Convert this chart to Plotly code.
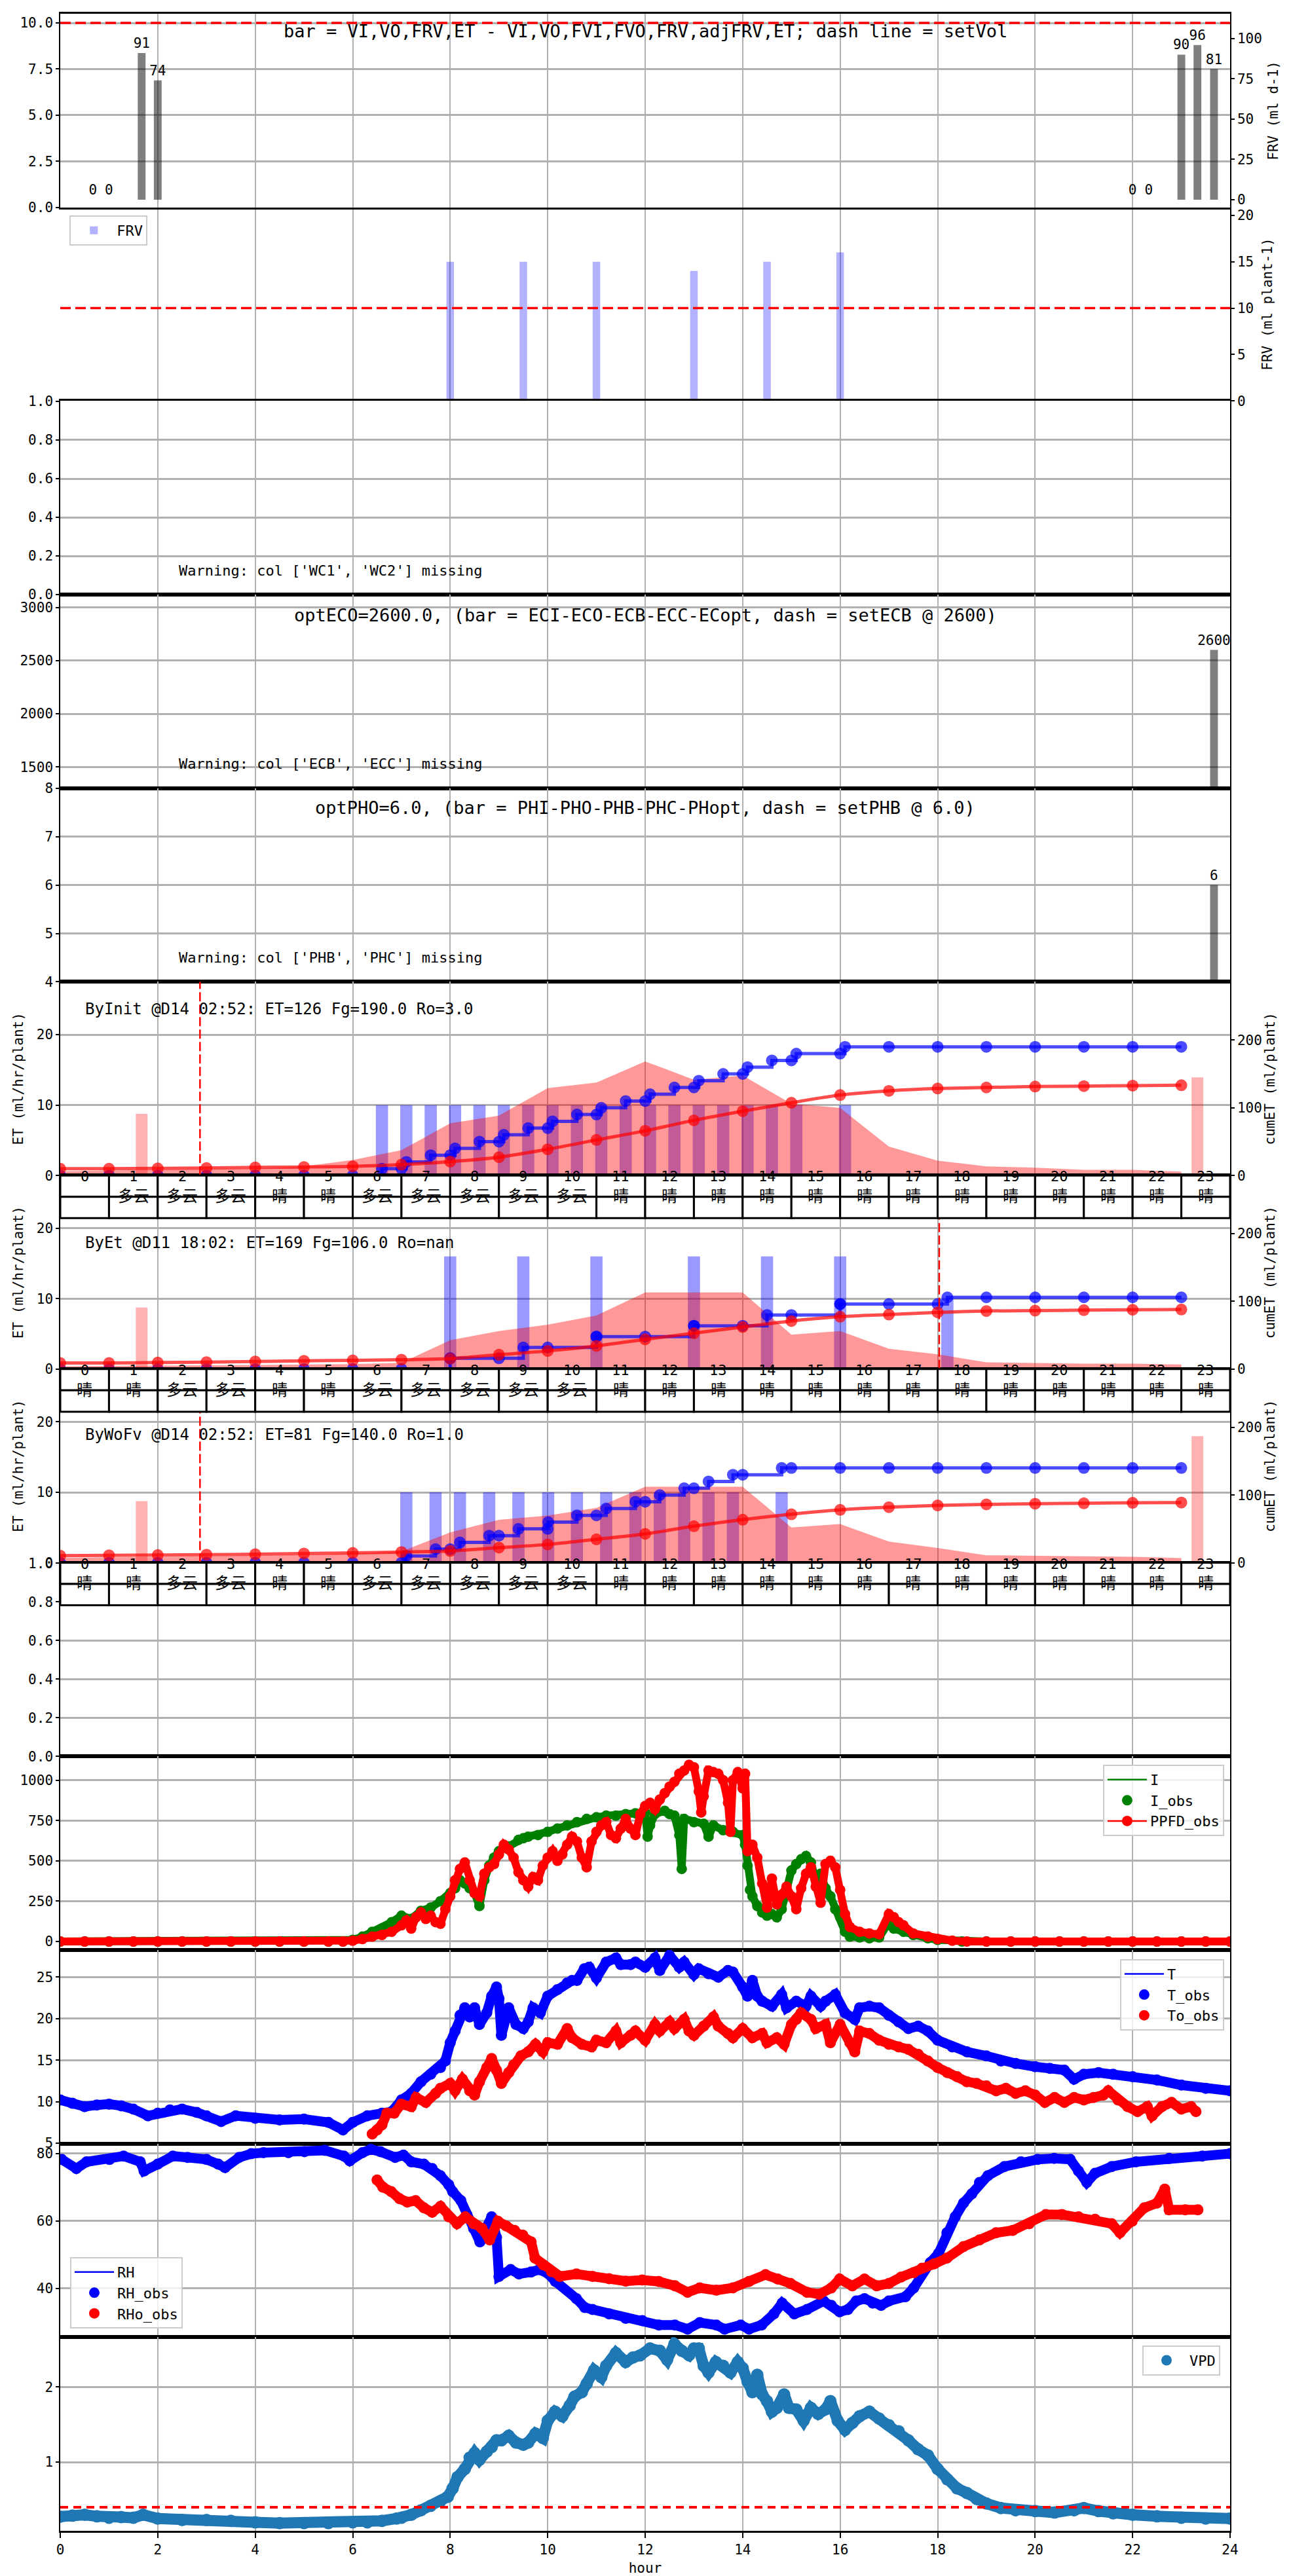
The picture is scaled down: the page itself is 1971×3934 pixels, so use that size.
import plotly.graph_objects as go

FONT = "DejaVu Sans Mono, Noto Sans CJK SC, sans-serif"
CJK_FONT = "Noto Sans CJK SC, DejaVu Sans Mono, sans-serif"
GRID = "#b0b0b0"
N_PANELS = 13

# ======================= DATA =======================
x_ticks = [0, 2, 4, 6, 8, 10, 12, 14, 16, 18, 20, 22, 24]

# panel 1: daily volumes
vol_hours = [0.67, 1.0, 1.67, 2.0, 22.0, 22.33, 23.0, 23.33, 23.67]
vol_values = [0, 0, 91, 74, 0, 0, 90, 96, 81]
set_vol = 10.0
title_vol = "bar = VI,VO,FRV,ET - VI,VO,FVI,FVO,FRV,adjFRV,ET; dash line = setVol"

# panel 2: FRV per event
frv_hours = [8.0, 9.5, 11.0, 13.0, 14.5, 16.0]
frv_values = [15, 15, 15, 14, 15, 16]
set_frv = 10.0

# panels 3-5
warn_wc = "Warning: col ['WC1', 'WC2'] missing"
ec_hours = [23.67]
ec_values = [2600]
title_ec = "optECO=2600.0, (bar = ECI-ECO-ECB-ECC-ECopt, dash = setECB @ 2600)"
warn_ec = "Warning: col ['ECB', 'ECC'] missing"
ph_hours = [23.67]
ph_values = [6]
title_ph = "optPHO=6.0, (bar = PHI-PHO-PHB-PHC-PHopt, dash = setPHB @ 6.0)"
warn_ph = "Warning: col ['PHB', 'PHC'] missing"

# ET panels (shared)
et_hours = [0, 1, 2, 3, 4, 5, 6, 7, 8, 9, 10, 11, 12, 13, 14, 15, 16, 17, 18, 19, 20, 21, 22, 23]
hour_labels = ["0", "1", "2", "3", "4", "5", "6", "7", "8", "9", "10", "11",
               "12", "13", "14", "15", "16", "17", "18", "19", "20", "21", "22", "23"]

# ByInit
init_label = "ByInit @D14 02:52: ET=126 Fg=190.0 Ro=3.0"
init_area = [0.6, 0.7, 0.75, 0.85, 1.0, 1.3, 2.2, 3.6, 7.4, 8.5, 12.4, 13.2,
             16.2, 13.6, 14.2, 10.2, 9.6, 4.1, 2.1, 1.3, 1.1, 0.8, 0.8, 0.55]
init_model = [10, 10, 10.5, 11, 12, 12.5, 13.5, 16, 20.5, 27, 38.7, 52.5,
              66, 81.5, 95, 107.5, 118.8, 125, 128.5, 130, 131.4, 132, 132.7, 133.3]
init_ev_t = [6.6, 7.1, 7.6, 8.1, 8.6, 9.1, 9.6, 10.1, 10.6, 11.1, 11.6, 12.1,
             12.6, 13.1, 13.6, 14.1, 14.6, 15.1, 16.1]
init_ev_v = [10, 10, 10, 10, 10, 10, 10, 10, 10, 10, 10, 10, 10, 10, 10, 10, 10, 10, 10]
init_ev_cum = [10, 20, 30, 40, 50, 60, 70, 80, 90, 100, 110, 120, 130, 140, 150, 160, 170, 180, 190]
init_hr_cum = [0, 0, 0, 0, 0, 0, 0, 10, 30, 50, 70, 90, 110, 130, 150, 170, 180, 190,
               190, 190, 190, 190, 190, 190]
init_fill_t = [1.67, 23.33]
init_fill_v = [91, 145]
init_mark = 2.867
init_wx = ["", "多云", "多云", "多云", "晴", "晴", "多云", "多云", "多云", "多云", "多云", "晴",
           "晴", "晴", "晴", "晴", "晴", "晴", "晴", "晴", "晴", "晴", "晴", "晴"]

# ByEt
byet_label = "ByEt @D11 18:02: ET=169 Fg=106.0 Ro=nan"
byet_area = [0.4, 0.45, 0.5, 0.55, 0.6, 0.65, 0.7, 0.9, 4.1, 5.4, 6.3, 7.6,
             10.9, 10.9, 10.9, 4.9, 5.4, 2.9, 2.1, 0.96, 0.87, 0.78, 0.78, 0.65]
byet_model = [9, 9, 9.7, 10.3, 11.3, 12.3, 12.9, 13.9, 15.5, 21.3, 26.8, 34.2,
              43.9, 53, 62.2, 71, 77.4, 80.6, 83.8, 85.8, 86.4, 87.1, 87.7, 88.1]
byet_ev_t = [8.0, 9.5, 11.0, 13.0, 14.5, 16.0, 18.2]
byet_ev_v = [16, 16, 16, 16, 16, 16, 10]
byet_ev_cum = [16, 32, 48, 64, 80, 96, 106]
byet_hr_cum = [0, 0, 0, 0, 0, 0, 0, 0, 16, 16, 32, 48, 48, 64, 64, 80, 96, 96,
               96, 106, 106, 106, 106, 106]
byet_fill_t = [1.67]
byet_fill_v = [91]
byet_mark = 18.033
byet_wx = ["晴", "晴", "多云", "多云", "晴", "晴", "多云", "多云", "多云", "多云", "多云", "晴",
           "晴", "晴", "晴", "晴", "晴", "晴", "晴", "晴", "晴", "晴", "晴", "晴"]

# ByWoFv
wofv_label = "ByWoFv @D14 02:52: ET=81 Fg=140.0 Ro=1.0"
wofv_area = [0.7, 0.75, 0.8, 0.9, 1.0, 1.1, 1.3, 1.6, 4.3, 6.1, 6.7, 7.8,
             10.8, 10.8, 10.8, 5.0, 5.5, 3.0, 2.1, 1.06, 0.95, 0.9, 0.85, 0.65]
wofv_model = [10.4, 11.0, 11.3, 11.9, 12.6, 13.6, 14.5, 15.8, 17.4, 22.3, 27, 34.6,
              42.6, 53.9, 63.6, 71.6, 78.1, 82, 84.6, 86.2, 87.1, 87.8, 88.5, 88.8]
wofv_ev_t = [7.1, 7.7, 8.2, 8.8, 9.4, 10.01, 10.6, 11.2, 11.8, 12.3, 12.8, 13.3, 13.8, 14.8]
wofv_ev_v = [10, 10, 10, 10, 10, 10, 10, 10, 10, 10, 10, 10, 10, 10]
wofv_ev_cum = [10, 20, 30, 40, 50, 60, 70, 80, 90, 100, 110, 120, 130, 140]
wofv_hr_cum = [0, 0, 0, 0, 0, 0, 0, 0, 20, 40, 50, 70, 90, 110, 130, 140, 140, 140,
               140, 140, 140, 140, 140, 140]
wofv_fill_t = [1.67, 23.33]
wofv_fill_v = [91, 187]
wofv_mark = 2.867
wofv_wx = ["晴", "晴", "多云", "多云", "晴", "晴", "多云", "多云", "多云", "多云", "多云", "晴",
           "晴", "晴", "晴", "晴", "晴", "晴", "晴", "晴", "晴", "晴", "晴", "晴"]

# light (hour, value)
ppfd_obs = [(0.0, 0), (0.5, 0), (1.0, 0), (1.5, 0), (2.0, 0), (2.5, 0), (3.0, 0), (3.5, 0),
            (4.0, 0), (4.5, 0), (5.0, 0), (5.5, 0), (5.8, 0), (6.0, 5), (6.2, 15), (6.4, 30),
            (6.6, 40), (6.8, 60), (7.0, 100), (7.1, 130), (7.2, 80), (7.3, 150), (7.4, 180),
            (7.5, 140), (7.6, 160), (7.7, 120), (7.8, 110), (7.9, 200), (8.0, 280), (8.1, 380),
            (8.2, 450), (8.3, 490), (8.4, 380), (8.5, 300), (8.6, 280), (8.7, 420), (8.8, 460),
            (8.9, 480), (9.0, 540), (9.1, 600), (9.2, 570), (9.3, 520), (9.4, 430), (9.5, 380),
            (9.6, 340), (9.7, 400), (9.8, 380), (9.9, 470), (10.0, 520), (10.1, 560), (10.2, 500),
            (10.3, 540), (10.4, 600), (10.5, 650), (10.6, 620), (10.7, 520), (10.8, 460),
            (10.9, 620), (11.0, 680), (11.1, 720), (11.2, 740), (11.3, 660), (11.4, 640),
            (11.5, 700), (11.6, 760), (11.7, 700), (11.8, 660), (11.9, 790), (12.0, 840),
            (12.1, 860), (12.2, 820), (12.3, 880), (12.4, 920), (12.5, 960), (12.6, 990),
            (12.7, 1040), (12.8, 1060), (12.9, 1095), (13.0, 1080), (13.1, 930), (13.15, 800),
            (13.2, 900), (13.3, 1060), (13.4, 1050), (13.5, 1040), (13.6, 1000), (13.7, 860),
            (13.75, 680), (13.8, 1000), (13.9, 1050), (14.0, 950), (14.05, 1040), (14.1, 560),
            (14.2, 600), (14.3, 520), (14.4, 360), (14.5, 210), (14.6, 390), (14.7, 230),
            (14.8, 290), (14.9, 340), (15.0, 280), (15.1, 200), (15.2, 330), (15.3, 420),
            (15.4, 460), (15.5, 340), (15.6, 240), (15.7, 480), (15.8, 500), (15.9, 460),
            (16.0, 320), (16.1, 170), (16.2, 90), (16.4, 60), (16.6, 50), (16.8, 45),
            (17.0, 170), (17.1, 150), (17.2, 120), (17.3, 100), (17.5, 50), (17.8, 30),
            (18.0, 15), (18.3, 5), (18.6, 0), (19.0, 0), (19.5, 0), (20.0, 0), (20.5, 0),
            (21.0, 0), (21.5, 0), (22.0, 0), (22.5, 0), (23.0, 0), (23.5, 0), (24.0, 0)]
i_obs = [(0.0, 0), (0.5, 0), (1.0, 0), (1.5, 0), (2.0, 0), (2.5, 0), (3.0, 0), (3.5, 0),
         (4.0, 0), (4.5, 0), (5.0, 0), (5.5, 0), (5.8, 0), (6.0, 10), (6.2, 30), (6.4, 60),
         (6.6, 80), (6.8, 120), (7.0, 160), (7.2, 140), (7.4, 190), (7.6, 210), (7.8, 250),
         (8.0, 300), (8.1, 330), (8.2, 380), (8.3, 360), (8.4, 330), (8.5, 300), (8.6, 220),
         (8.7, 380), (8.8, 470), (8.9, 520), (9.0, 560), (9.2, 590), (9.4, 630), (9.5, 640),
         (9.6, 650), (9.8, 660), (10.0, 680), (10.2, 700), (10.4, 720), (10.6, 740),
         (10.8, 760), (11.0, 770), (11.2, 780), (11.4, 780), (11.6, 790), (11.8, 795),
         (12.0, 800), (12.05, 650), (12.1, 720), (12.2, 790), (12.4, 810), (12.5, 790),
         (12.6, 780), (12.7, 660), (12.75, 450), (12.8, 760), (13.0, 740), (13.2, 730),
         (13.3, 650), (13.4, 720), (13.6, 690), (13.8, 680), (14.0, 660), (14.05, 600),
         (14.1, 470), (14.15, 320), (14.2, 280), (14.3, 220), (14.4, 180), (14.5, 160),
         (14.6, 170), (14.7, 150), (14.8, 200), (14.9, 320), (15.0, 440), (15.1, 480),
         (15.2, 510), (15.3, 530), (15.4, 490), (15.5, 380), (15.6, 420), (15.7, 330),
         (15.8, 280), (15.9, 200), (16.0, 150), (16.1, 60), (16.2, 30), (16.4, 25),
         (16.6, 20), (16.8, 25), (17.0, 120), (17.1, 80), (17.3, 60), (17.5, 40), (17.8, 20),
         (18.0, 10), (18.5, 0), (19.0, 0), (19.5, 0), (20.0, 0), (20.5, 0), (21.0, 0),
         (21.5, 0), (22.0, 0), (22.5, 0), (23.0, 0), (23.5, 0), (24.0, 0)]

# temperature (hour, degC)
t_obs = [(0.0, 10.2), (0.25, 9.8), (0.5, 9.4), (0.75, 9.6), (1.0, 9.7), (1.25, 9.5),
         (1.5, 9.1), (1.8, 8.3), (2.0, 8.6), (2.25, 9.0), (2.5, 9.1), (2.8, 8.7), (3.0, 8.3),
         (3.3, 7.6), (3.6, 8.3), (4.0, 8.0), (4.5, 7.8), (5.0, 7.9), (5.5, 7.5), (5.8, 6.6),
         (6.0, 7.5), (6.3, 8.3), (6.6, 8.6), (6.8, 8.8), (7.0, 10.2), (7.2, 11.0), (7.4, 12.4),
         (7.6, 13.3), (7.8, 14.1), (7.9, 14.9), (8.0, 17.1), (8.1, 18.5), (8.2, 20.4),
         (8.3, 21.3), (8.4, 20.2), (8.5, 21.3), (8.6, 19.3), (8.75, 20.7), (8.85, 22.7),
         (8.95, 23.8), (9.0, 22.4), (9.05, 18.0), (9.2, 21.3), (9.35, 19.3), (9.5, 18.8),
         (9.6, 19.6), (9.7, 21.3), (9.85, 20.7), (10.0, 22.7), (10.2, 23.5), (10.4, 24.3),
         (10.5, 24.6), (10.6, 24.6), (10.75, 26.0), (10.85, 26.2), (11.0, 24.9), (11.2, 26.8),
         (11.4, 27.3), (11.5, 26.5), (11.7, 26.5), (11.8, 26.8), (12.0, 26.2), (12.2, 27.3),
         (12.3, 25.8), (12.5, 27.6), (12.7, 26.2), (12.8, 26.8), (13.0, 25.3), (13.1, 26.0),
         (13.3, 25.4), (13.5, 25.0), (13.7, 25.8), (13.8, 25.6), (14.0, 23.8), (14.1, 22.7),
         (14.2, 24.6), (14.3, 22.7), (14.4, 22.1), (14.6, 21.5), (14.8, 22.9), (14.9, 21.3),
         (15.1, 22.1), (15.3, 21.5), (15.4, 22.7), (15.6, 21.5), (15.7, 22.1), (15.9, 22.9),
         (16.1, 20.7), (16.3, 19.9), (16.4, 21.3), (16.6, 21.5), (16.8, 21.3), (17.0, 20.4),
         (17.2, 19.6), (17.4, 18.8), (17.6, 19.1), (17.8, 18.5), (18.0, 17.4), (18.3, 16.6),
         (18.6, 16.0), (19.0, 15.5), (19.3, 14.9), (19.6, 14.6), (20.0, 14.2), (20.3, 14.0),
         (20.6, 13.8), (20.8, 12.7), (21.0, 13.3), (21.3, 13.5), (21.6, 13.3), (22.0, 13.0),
         (22.5, 12.6), (23.0, 12.0), (23.5, 11.6), (24.0, 11.3)]
to_obs = [(6.4, 6.1), (6.5, 6.6), (6.6, 7.2), (6.7, 8.6), (6.85, 8.6), (7.0, 9.7), (7.2, 9.4),
          (7.3, 10.5), (7.5, 9.9), (7.7, 11.0), (7.8, 11.6), (8.0, 12.2), (8.1, 11.3),
          (8.25, 12.7), (8.4, 11.3), (8.5, 10.8), (8.6, 12.4), (8.75, 14.1), (8.85, 15.2),
          (8.95, 13.8), (9.05, 12.2), (9.2, 13.5), (9.3, 14.4), (9.45, 15.5), (9.6, 16.0),
          (9.75, 16.9), (9.9, 16.0), (10.0, 17.1), (10.2, 16.9), (10.4, 18.8), (10.5, 17.7),
          (10.7, 16.9), (10.9, 16.6), (11.0, 17.4), (11.2, 17.1), (11.4, 18.5), (11.5, 17.1),
          (11.7, 18.0), (11.8, 18.5), (12.0, 17.4), (12.2, 19.3), (12.3, 18.5), (12.5, 19.6),
          (12.6, 18.8), (12.8, 19.9), (12.9, 18.5), (13.0, 18.0), (13.2, 19.1), (13.4, 20.2),
          (13.5, 19.1), (13.7, 18.2), (13.8, 17.7), (14.0, 18.8), (14.2, 17.7), (14.4, 18.2),
          (14.5, 17.1), (14.7, 17.7), (14.85, 16.9), (15.0, 19.3), (15.1, 19.9), (15.2, 20.7),
          (15.4, 19.9), (15.5, 18.8), (15.7, 19.3), (15.8, 17.1), (16.0, 19.3), (16.2, 17.1),
          (16.3, 16.0), (16.4, 18.5), (16.6, 18.2), (16.8, 17.4), (17.0, 16.9), (17.2, 16.6),
          (17.4, 16.3), (17.6, 15.7), (17.8, 14.9), (18.0, 14.1), (18.2, 13.5), (18.4, 13.0),
          (18.6, 12.4), (18.8, 12.2), (19.0, 11.9), (19.2, 11.3), (19.4, 11.6), (19.6, 11.0),
          (19.8, 11.3), (20.0, 10.8), (20.2, 9.9), (20.4, 10.5), (20.6, 9.9), (20.8, 10.5),
          (21.0, 10.2), (21.2, 10.5), (21.4, 10.8), (21.5, 11.3), (21.7, 10.2), (21.9, 9.4),
          (22.1, 8.8), (22.3, 9.4), (22.4, 8.3), (22.6, 9.4), (22.8, 9.9), (23.0, 9.1),
          (23.2, 9.4), (23.3, 8.8)]

# relative humidity (hour, %)
rh_obs = [(0.03, 78.2), (0.33, 75.5), (0.54, 77.5), (1.01, 78.2), (1.3, 79.2), (1.64, 77.5),
          (1.72, 74.8), (2.0, 76.8), (2.31, 79.2), (2.61, 78.8), (3.0, 78.2), (3.24, 76.8),
          (3.38, 75.8), (3.67, 78.8), (3.92, 79.9), (4.17, 80.2), (4.68, 80.2), (5.01, 80.5),
          (5.43, 80.9), (5.82, 79.2), (5.94, 77.8), (6.2, 80.2), (6.37, 81.2), (6.57, 80.5),
          (6.87, 78.8), (7.04, 79.5), (7.2, 77.5), (7.46, 76.8), (7.63, 75.5), (7.8, 73.4),
          (7.97, 70.7), (8.05, 68.7), (8.22, 66.0), (8.34, 61.9), (8.48, 57.8), (8.61, 53.8),
          (8.73, 57.8), (8.85, 61.2), (8.95, 55.1), (9.0, 43.6), (9.24, 45.6), (9.41, 44.3),
          (9.66, 44.9), (9.83, 45.6), (10.0, 44.5), (10.16, 42.1), (10.59, 37.0), (10.76, 34.4),
          (10.92, 33.8), (11.26, 32.5), (11.6, 31.2), (11.94, 30.5), (12.28, 29.2),
          (12.61, 29.2), (12.87, 28.0), (13.12, 29.9), (13.46, 29.2), (13.63, 28.0),
          (13.96, 29.2), (14.13, 28.0), (14.39, 29.2), (14.64, 32.5), (14.81, 35.7),
          (15.06, 32.5), (15.32, 33.8), (15.66, 36.3), (15.82, 35.0), (15.99, 33.1),
          (16.16, 33.8), (16.33, 36.3), (16.5, 37.0), (16.67, 35.7), (16.84, 35.0), (17.0, 36.3),
          (17.34, 37.6), (17.51, 40.2), (17.68, 44.7), (17.85, 47.7), (18.02, 50.4),
          (18.19, 56.5), (18.36, 61.2), (18.53, 65.3), (18.7, 68.0), (18.86, 71.4),
          (19.03, 73.4), (19.37, 76.1), (19.71, 77.5), (20.05, 78.2), (20.39, 78.5),
          (20.72, 78.2), (20.89, 74.8), (21.06, 71.4), (21.23, 74.1), (21.57, 76.1),
          (22.07, 77.5), (22.75, 78.5), (23.43, 79.2), (24.0, 79.9)]
rho_obs = [(6.5, 72.1), (6.62, 70.0), (6.79, 68.7), (6.96, 66.6), (7.12, 65.6), (7.29, 66.0),
           (7.46, 63.9), (7.63, 62.6), (7.8, 64.3), (7.97, 61.2), (8.14, 59.2), (8.31, 61.2),
           (8.48, 59.2), (8.65, 57.8), (8.81, 54.4), (8.98, 59.9), (9.15, 58.5), (9.32, 57.2),
           (9.49, 55.8), (9.66, 53.8), (9.74, 49.0), (9.91, 47.0), (10.08, 45.0), (10.25, 43.6),
           (10.59, 44.3), (10.92, 43.6), (11.26, 42.9), (11.6, 42.2), (11.94, 42.5),
           (12.28, 42.1), (12.61, 40.8), (12.87, 38.9), (13.12, 40.2), (13.46, 39.5),
           (13.8, 40.2), (14.13, 42.1), (14.47, 44.1), (14.72, 42.8), (14.98, 41.5),
           (15.32, 38.9), (15.57, 38.3), (15.82, 40.2), (15.99, 42.8), (16.25, 40.8),
           (16.5, 42.8), (16.75, 40.8), (17.0, 41.5), (17.25, 43.4), (17.51, 44.7),
           (17.68, 46.0), (17.93, 47.3), (18.19, 49.0), (18.53, 52.4), (18.86, 54.4),
           (19.2, 56.5), (19.54, 57.2), (19.88, 59.2), (20.22, 61.9), (20.55, 61.9),
           (20.89, 61.2), (21.23, 60.5), (21.57, 59.2), (21.74, 56.5), (21.99, 59.9),
           (22.24, 63.9), (22.5, 65.3), (22.66, 69.4), (22.75, 63.3), (23.08, 63.3), (23.34, 63.3)]

# VPD (hour, kPa)
vpd_obs = [(0.0, 0.275), (0.25, 0.29), (0.5, 0.30), (0.75, 0.28), (1.0, 0.26), (1.25, 0.27),
           (1.5, 0.26), (1.7, 0.30), (2.0, 0.25), (2.5, 0.23), (3.0, 0.23), (3.5, 0.22),
           (4.0, 0.20), (4.5, 0.19), (5.0, 0.19), (5.5, 0.19), (6.0, 0.20), (6.3, 0.20),
           (6.6, 0.22), (6.9, 0.25), (7.0, 0.26), (7.2, 0.30), (7.4, 0.36), (7.6, 0.42),
           (7.8, 0.48), (7.95, 0.54), (8.05, 0.65), (8.15, 0.80), (8.3, 0.91), (8.4, 1.06),
           (8.5, 1.12), (8.6, 1.03), (8.75, 1.14), (8.85, 1.20), (8.95, 1.29), (9.05, 1.29),
           (9.2, 1.35), (9.35, 1.26), (9.5, 1.23), (9.6, 1.26), (9.75, 1.38), (9.9, 1.32),
           (10.0, 1.55), (10.15, 1.67), (10.3, 1.61), (10.45, 1.75), (10.55, 1.87), (10.7, 1.93),
           (10.8, 2.04), (10.95, 2.22), (11.1, 2.13), (11.2, 2.28), (11.4, 2.45), (11.6, 2.33),
           (11.75, 2.39), (11.9, 2.42), (12.1, 2.51), (12.3, 2.48), (12.45, 2.36), (12.6, 2.57),
           (12.75, 2.48), (12.9, 2.42), (13.0, 2.51), (13.1, 2.51), (13.2, 2.28), (13.3, 2.19),
           (13.45, 2.33), (13.6, 2.28), (13.75, 2.19), (13.9, 2.33), (14.0, 2.25), (14.1, 2.07),
           (14.2, 1.93), (14.3, 2.16), (14.4, 1.90), (14.5, 1.81), (14.6, 1.67), (14.7, 1.72),
           (14.85, 1.90), (14.95, 1.72), (15.1, 1.70), (15.25, 1.55), (15.4, 1.72), (15.55, 1.64),
           (15.7, 1.70), (15.8, 1.81), (15.95, 1.55), (16.1, 1.43), (16.25, 1.52), (16.4, 1.61),
           (16.6, 1.67), (16.8, 1.58), (17.0, 1.49), (17.2, 1.41), (17.4, 1.29), (17.6, 1.17),
           (17.8, 1.09), (18.0, 0.91), (18.2, 0.77), (18.4, 0.65), (18.6, 0.59), (18.8, 0.51),
           (19.0, 0.45), (19.3, 0.39), (19.6, 0.36), (20.0, 0.35), (20.4, 0.33), (20.8, 0.36),
           (21.0, 0.39), (21.3, 0.35), (21.6, 0.32), (22.0, 0.30), (22.5, 0.28), (23.0, 0.26),
           (23.5, 0.25), (24.0, 0.25)]
vpd_set = 0.4

# ======================= AXES =======================
y_range = {1: [0, 10.5], 2: [0, 1.003], 3: [0, 1.002], 4: [1300, 3120], 5: [4, 8],
           6: [0, 27.5], 7: [0, 27.5], 8: [0, 27.5], 9: [0, 1.003], 10: [-52.6, 1148],
           11: [4.95, 28.27], 12: [25.6, 82.9], 13: [0.087, 2.66]}
y_ticks = {1: [0, 2.5, 5, 7.5, 10], 2: [0, 0.2, 0.4, 0.6, 0.8, 1.0], 3: [0, 0.2, 0.4, 0.6, 0.8, 1.0],
           4: [1500, 2000, 2500, 3000], 5: [4, 5, 6, 7, 8], 6: [0, 10, 20], 7: [0, 10, 20],
           8: [0, 10, 20], 9: [0, 0.2, 0.4, 0.6, 0.8, 1.0], 10: [0, 250, 500, 750, 1000],
           11: [5, 10, 15, 20, 25], 12: [40, 60, 80], 13: [1, 2]}
y_fmt = {1: ".1f", 2: ".1f", 3: ".1f", 9: ".1f"}
secondary = {1: (14, [-4.8, 115.4], [0, 25, 50, 75, 100], "FRV (ml d-1)", 10),
             2: (15, [0, 20.85], [0, 5, 10, 15, 20], "FRV (ml plant-1)", 14),
             6: (16, [0, 286], [0, 100, 200], "cumET (ml/plant)", 4),
             7: (17, [0, 286], [0, 100, 200], "cumET (ml/plant)", 4),
             8: (18, [0, 286], [0, 100, 200], "cumET (ml/plant)", 4)}


def xa(k):
    return "x" if k == 1 else f"x{k}"


def ya(k):
    return "y" if k == 1 else f"y{k}"


def panel_domain(k):
    return [1 - k / N_PANELS, 1 - (k - 1) / N_PANELS]


layout = dict(
    width=1971, height=3934, template="none",
    margin=dict(l=92, r=93, t=21, b=69, pad=0),
    plot_bgcolor="white", paper_bgcolor="white",
    font=dict(family=FONT, size=21, color="black"),
    barmode="overlay", hovermode=False, showlegend=True,
)

for k in range(1, N_PANELS + 1):
    layout["xaxis" if k == 1 else f"xaxis{k}"] = dict(
        domain=[0, 1], anchor=ya(k), range=[0, 24], tickvals=x_ticks,
        showgrid=True, gridcolor=GRID, gridwidth=1.5, zeroline=False,
        showline=True, linecolor="black", linewidth=3, mirror=True,
        showticklabels=(k == N_PANELS), ticks="outside" if k == N_PANELS else "",
        ticklen=8, tickwidth=1.5, tickcolor="black", automargin=False,
    )
    layout["yaxis" if k == 1 else f"yaxis{k}"] = dict(
        domain=panel_domain(k), anchor=xa(k), range=y_range[k], tickvals=y_ticks[k],
        tickformat=y_fmt.get(k, ""), showgrid=True, gridcolor=GRID, gridwidth=2.5,
        zeroline=False, showline=True, linecolor="black", linewidth=1.5, mirror=True,
        ticks="outside", ticklen=5, tickwidth=1.5, tickcolor="black", automargin=False,
    )

for k in (6, 7, 8):
    layout[f"yaxis{k}"]["title"] = dict(text="ET (ml/hr/plant)", standoff=14, font=dict(size=21))

for k, (sid, rng, tv, ttl, so) in secondary.items():
    layout[f"yaxis{sid}"] = dict(
        overlaying=ya(k), side="right", anchor=xa(k), domain=panel_domain(k),
        range=rng, tickvals=tv,
        showgrid=False, zeroline=False, showline=True, linecolor="black", linewidth=1.5,
        ticks="outside", ticklen=5, tickwidth=1.5, tickcolor="black", automargin=False,
        title=dict(text=ttl, standoff=so, font=dict(size=21)),
    )

layout["xaxis13"]["title"] = dict(text="hour", standoff=12, font=dict(size=21))

fig = go.Figure()
shapes = []
annots = []


def dom_ref(k, kind):
    return ("x" if kind == "x" else "y") + ("" if k == 1 else str(k)) + " domain"


def text_annot(k, text, x, y, size, xanchor="left", yanchor="middle", font=FONT):
    annots.append(dict(text=text, xref=dom_ref(k, "x"), yref=dom_ref(k, "y"), x=x, y=y,
                       xanchor=xanchor, yanchor=yanchor, showarrow=False,
                       font=dict(family=font, size=size, color="black")))


# ---------- panel 1 ----------
fig.add_trace(go.Bar(x=vol_hours, y=vol_values, xaxis="x", yaxis="y14", width=0.16,
                     marker=dict(color="rgba(0,0,0,0.5)", line=dict(width=0)),
                     text=[str(v) for v in vol_values], textposition="outside",
                     constraintext="none", cliponaxis=False,
                     textfont=dict(size=21, color="black"), showlegend=False))
shapes.append(dict(type="line", xref="x domain", x0=0, x1=1, yref="y", y0=set_vol, y1=set_vol,
                   line=dict(color="red", width=3.5, dash="16px,7px"), layer="above"))
text_annot(1, title_vol, 0.5, 0.909, 27, xanchor="center")

# ---------- panel 2 ----------
fig.add_trace(go.Bar(x=frv_hours, y=frv_values, xaxis="x2", yaxis="y15", width=0.155,
                     marker=dict(color="rgba(0,0,255,0.3)", line=dict(width=0)),
                     name="FRV", legend="legend", showlegend=True))
shapes.append(dict(type="line", xref="x2 domain", x0=0, x1=1, yref="y15", y0=set_frv, y1=set_frv,
                   line=dict(color="red", width=3.5, dash="16px,7px"), layer="above"))

# ---------- panel 3 ----------
fig.add_trace(go.Scatter(x=[], y=[], xaxis="x3", yaxis="y3", showlegend=False))
text_annot(3, warn_wc, 0.1, 0.123, 22)

# ---------- panel 4 ----------
fig.add_trace(go.Bar(x=ec_hours, y=ec_values, xaxis="x4", yaxis="y4", width=0.16,
                     marker=dict(color="rgba(0,0,0,0.5)", line=dict(width=0)),
                     text=[str(v) for v in ec_values], textposition="outside",
                     constraintext="none", cliponaxis=False,
                     textfont=dict(size=21, color="black"), showlegend=False))
text_annot(4, title_ec, 0.5, 0.895, 27, xanchor="center")
text_annot(4, warn_ec, 0.1, 0.125, 22)

# ---------- panel 5 ----------
fig.add_trace(go.Bar(x=ph_hours, y=ph_values, xaxis="x5", yaxis="y5", width=0.16,
                     marker=dict(color="rgba(0,0,0,0.5)", line=dict(width=0)),
                     text=[str(v) for v in ph_values], textposition="outside",
                     constraintext="none", cliponaxis=False,
                     textfont=dict(size=21, color="black"), showlegend=False))
text_annot(5, title_ph, 0.5, 0.899, 27, xanchor="center")
text_annot(5, warn_ph, 0.1, 0.125, 22)


# ---------- ET panels ----------
def et_panel(k, label, label_y, area, model, ev_t, ev_v, ev_cum, hr_cum,
             fill_t, fill_v, mark, wx):
    sid = secondary[k][0]
    xk, yk, ys = xa(k), ya(k), f"y{sid}"
    fig.add_trace(go.Scatter(x=et_hours, y=area, xaxis=xk, yaxis=yk, mode="lines",
                             line=dict(width=0, color="rgba(255,0,0,0.4)"), fill="tozeroy",
                             fillcolor="rgba(255,0,0,0.4)", showlegend=False))
    fig.add_trace(go.Bar(x=ev_t, y=ev_v, xaxis=xk, yaxis=yk, width=0.25,
                         marker=dict(color="rgba(0,0,255,0.4)", line=dict(width=0)),
                         showlegend=False))
    fig.add_trace(go.Bar(x=fill_t, y=fill_v, xaxis=xk, yaxis=ys, width=0.24,
                         marker=dict(color="rgba(255,0,0,0.3)", line=dict(width=0)),
                         showlegend=False))
    pts = sorted(list(zip(et_hours, hr_cum)) + list(zip(ev_t, ev_cum)), key=lambda p: (p[0], p[1]))
    fig.add_trace(go.Scatter(x=[p[0] for p in pts], y=[p[1] for p in pts], xaxis=xk, yaxis=ys,
                             mode="lines+markers", line=dict(color="rgba(0,0,255,0.7)", width=5, shape="hv"),
                             marker=dict(color="rgba(0,0,255,0.7)", size=18), showlegend=False))
    fig.add_trace(go.Scatter(x=et_hours, y=model, xaxis=xk, yaxis=ys, mode="lines+markers",
                             line=dict(color="rgba(255,0,0,0.7)", width=5, shape="spline"),
                             marker=dict(color="rgba(255,0,0,0.7)", size=18), showlegend=False))
    shapes.append(dict(type="line", xref=xk, x0=mark, x1=mark, yref=dom_ref(k, "y"), y0=0, y1=1,
                       line=dict(color="red", width=2.5, dash="14px,5px"), layer="above"))
    text_annot(k, label, 0.02, label_y, 24)
    return wx


tables = []
tables.append((6, et_panel(6, init_label, 0.861, init_area, init_model, init_ev_t, init_ev_v,
                           init_ev_cum, init_hr_cum, init_fill_t, init_fill_v, init_mark, init_wx)))
tables.append((7, et_panel(7, byet_label, 0.653, byet_area, byet_model, byet_ev_t, byet_ev_v,
                           byet_ev_cum, byet_hr_cum, byet_fill_t, byet_fill_v, byet_mark, byet_wx)))
tables.append((8, et_panel(8, wofv_label, 0.66, wofv_area, wofv_model, wofv_ev_t, wofv_ev_v,
                           wofv_ev_cum, wofv_hr_cum, wofv_fill_t, wofv_fill_v, wofv_mark, wofv_wx)))

ROW_H = 0.11
for k, wx in tables:
    xk = xa(k)
    yd = dom_ref(k, "y")
    for h, lab, w in zip(et_hours, hour_labels, wx):
        for r in (0, 1):
            shapes.append(dict(type="rect", xref=xk, x0=h, x1=h + 1, yref=yd,
                               y0=-ROW_H * (r + 1), y1=-ROW_H * r, fillcolor="white",
                               line=dict(color="black", width=3), layer="above"))
        annots.append(dict(text=lab, xref=xk, x=h + 0.5, yref=yd, y=-ROW_H * 0.5,
                           showarrow=False, font=dict(family=FONT, size=22, color="black")))
        if w:
            annots.append(dict(text=w, xref=xk, x=h + 0.5, yref=yd, y=-ROW_H * 1.5,
                               showarrow=False, font=dict(family=CJK_FONT, size=24, color="black")))

# ---------- panel 9 (empty) ----------
fig.add_trace(go.Scatter(x=[], y=[], xaxis="x9", yaxis="y9", showlegend=False))


# ---------- observation helpers ----------
def obs(k, data, color, name, legend, size=17, band=15, thin=None, show=True):
    t = [p[0] for p in data]
    v = [p[1] for p in data]
    fig.add_trace(go.Scatter(x=t, y=v, xaxis=xa(k), yaxis=ya(k), mode="lines",
                             line=dict(color=color, width=band), showlegend=False))
    if thin:
        fig.add_trace(go.Scatter(x=t, y=v, xaxis=xa(k), yaxis=ya(k), mode="lines+markers",
                                 line=dict(color=color, width=thin),
                                 marker=dict(color=color, size=size), name=name,
                                 legend=legend, legendgroup=name, showlegend=show))
    else:
        fig.add_trace(go.Scatter(x=t, y=v, xaxis=xa(k), yaxis=ya(k), mode="markers",
                                 marker=dict(color=color, size=size), name=name,
                                 legend=legend, legendgroup=name, showlegend=show))


def model_line(k, data, color, name, legend):
    fig.add_trace(go.Scatter(x=[p[0] for p in data], y=[p[1] for p in data], xaxis=xa(k),
                             yaxis=ya(k), mode="lines", line=dict(color=color, width=2.5),
                             name=name, legend=legend, legendgroup=name, showlegend=True))


# panel 10 light
model_line(10, i_obs, "green", "I", "legend2")
obs(10, i_obs, "green", "I_obs", "legend2", size=16, band=12)
obs(10, ppfd_obs, "red", "PPFD_obs", "legend2", size=16, band=12, thin=2.5)

# panel 11 temperature
model_line(11, t_obs, "blue", "T", "legend3")
obs(11, t_obs, "blue", "T_obs", "legend3")
obs(11, to_obs, "red", "To_obs", "legend3")

# panel 12 RH
model_line(12, rh_obs, "blue", "RH", "legend4")
obs(12, rh_obs, "blue", "RH_obs", "legend4")
obs(12, rho_obs, "red", "RHo_obs", "legend4")

# panel 13 VPD
obs(13, vpd_obs, "#1f77b4", "VPD", "legend5", size=19, band=17)
shapes.append(dict(type="line", xref="x13 domain", x0=0, x1=1, yref="y13", y0=vpd_set, y1=vpd_set,
                   line=dict(color="red", width=4, dash="12px,8px"), layer="above"))

# ---------- legends ----------
leg_common = dict(bgcolor="rgba(255,255,255,0.8)", bordercolor="#cccccc", borderwidth=2,
                  font=dict(family=FONT, size=22, color="black"), itemwidth=60,
                  tracegroupgap=7, traceorder="normal", xref="paper", yref="paper")
layout["legend"] = dict(x=0.008, y=0.9199, xanchor="left", yanchor="top", **leg_common)
layout["legend2"] = dict(x=0.9949, y=0.3044, xanchor="right", yanchor="top", **leg_common)
layout["legend3"] = dict(x=0.9949, y=0.2272, xanchor="right", yanchor="top", **leg_common)
layout["legend4"] = dict(x=0.0084, y=0.0804, xanchor="left", yanchor="bottom", **leg_common)
layout["legend5"] = dict(x=0.9916, y=0.0737, xanchor="right", yanchor="top", **leg_common)

layout["shapes"] = shapes
layout["annotations"] = annots
fig.update_layout(**layout)

fig.write_html("out.html", include_plotlyjs=True, full_html=True,
               config={"displayModeBar": False},
               post_script="document.body.style.margin='0px';")
